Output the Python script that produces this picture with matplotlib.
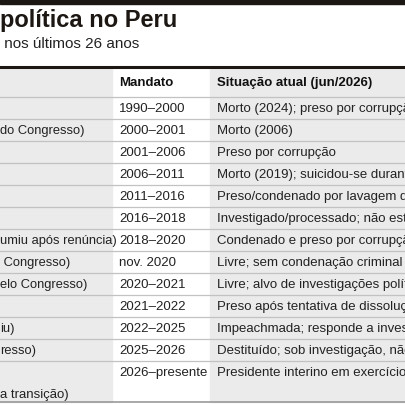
import matplotlib.pyplot as plt
from matplotlib.patches import Rectangle

# visible (cropped) fragments of the first column
nomes = ["", "do Congresso)", "", "", "", "", "umiu após renúncia)", " Congresso)",
         "elo Congresso)", "", "iu)", "resso)", ""]
mandatos = ["1990–2000", "2000–2001", "2001–2006", "2006–2011", "2011–2016", "2016–2018",
            "2018–2020", "nov. 2020", "2020–2021", "2021–2022", "2022–2025", "2025–2026",
            "2026–presente"]
situacao = ["Morto (2024); preso por corrupção", "Morto (2006)", "Preso por corrupção",
            "Morto (2019); suicidou-se durante", "Preso/condenado por lavagem de",
            "Investigado/processado; não está", "Condenado e preso por corrupção",
            "Livre; sem condenação criminal relevante", "Livre; alvo de investigações políticas",
            "Preso após tentativa de dissolução", "Impeachmada; responde a investigações",
            "Destituído; sob investigação, não preso", "Presidente interino em exercício"]

plt.rcParams['font.family'] = ['Liberation Sans', 'DejaVu Sans']
fig = plt.figure(figsize=(4.06, 4.06), dpi=100)
ax = fig.add_axes([0, 0, 1, 1])
ax.set_xlim(0, 406)
ax.set_ylim(406, 0)
ax.axis('off')

gray = '#ebebeb'
x_mand, x_sit = 112, 210
# top black bar
ax.add_patch(Rectangle((0, 0), 406, 5, color='#1c1712'))
ax.text(0, 20, "política no Peru", fontsize=17, fontweight='bold', va='center', color='#1c1712')
ax.text(0, 44, " nos últimos 26 anos", fontsize=11, va='center', color='#222')

# column backgrounds
top, bottom = 68, 403
name_bg = Rectangle((0, top), x_mand, bottom - top, color=gray)
ax.add_patch(name_bg)
ax.add_patch(Rectangle((x_sit, top), 406 - x_sit, bottom - top, color=gray))
ax.plot([0, 406], [top, top], color='#1c1712', lw=2.2)
ax.plot([0, 406], [bottom, bottom], color='#999', lw=1.2)

ax.text(x_mand + 7, 83, "Mandato", fontsize=9.5, fontweight='bold', va='center', color='#111')
ax.text(x_sit + 7, 83, "Situação atual (jun/2026)", fontsize=9.5, fontweight='bold', va='center', color='#111')

row_top = 98
h = 22
for i, (n, m, s) in enumerate(zip(nomes, mandatos, situacao)):
    y0 = row_top + i * h
    ax.plot([0, 406], [y0, y0], color='#c2c2c2', lw=0.9)
    yc = y0 + h / 2
    t = ax.text(0, yc, n, fontsize=9.3, va='center', color='#222')
    t.set_clip_path(name_bg)
    ax.text(x_mand + 7, yc, m, fontsize=9.5, va='center', color='#222', clip_on=True)
    ax.text(x_sit + 7, yc, s, fontsize=9.5, va='center', color='#222', clip_on=True)
ax.text(0, 395, "a transição)", fontsize=9.5, va='center', color='#222')

fig.savefig('out.png', dpi=100)
